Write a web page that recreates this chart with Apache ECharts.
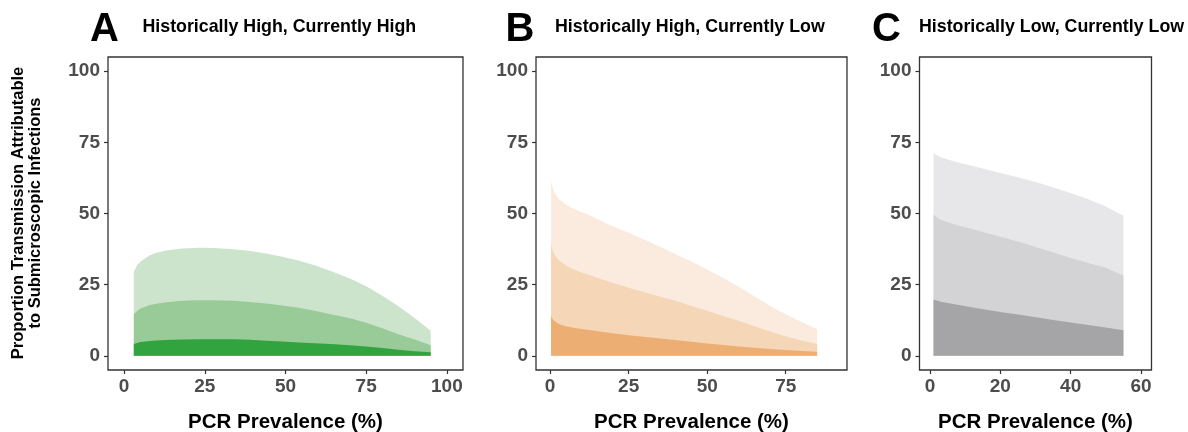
<!DOCTYPE html>
<html>
<head>
<meta charset="utf-8">
<script src="https://cdn.jsdelivr.net/npm/echarts@6/dist/echarts.min.js"></script>
<style>
html,body{margin:0;padding:0;background:#fff;}
#c{width:1188px;height:432px;}
</style>
</head>
<body>
<div id="c"></div>
<script>
// ---- data ----
var panelLetters = ['A', 'B', 'C'];
var panelTitles = ['Historically High, Currently High', 'Historically High, Currently Low', 'Historically Low, Currently Low'];
var xTitle = 'PCR Prevalence (%)';
var yTitle = 'Proportion Transmission Attributable\nto Submicroscopic Infections';

var yTicks = [0, 25, 50, 75, 100];
var xTicksA = [0, 25, 50, 75, 100];
var xTicksB = [0, 25, 50, 75];
var xTicksC = [0, 20, 40, 60];

var xA = [3, 4, 5, 6.5, 8, 10, 13, 18, 23, 28, 34, 39, 44, 49, 54, 59, 64, 70, 75, 80, 85, 90, 95];
var aHigh = [29.5, 31.8, 33.0, 34.3, 35.3, 36.2, 37.0, 37.7, 38.0, 37.9, 37.4, 36.8, 35.9, 34.8, 33.5, 31.8, 29.8, 27.2, 24.4, 21.1, 17.4, 13.3, 8.8];
var aMid  = [14.6, 15.7, 16.5, 17.2, 17.8, 18.3, 18.8, 19.3, 19.5, 19.5, 19.3, 18.9, 18.4, 17.7, 16.9, 15.8, 14.6, 13.2, 11.6, 9.7, 7.6, 5.7, 3.7];
var aLow  = [4.1, 4.5, 4.8, 5.0, 5.2, 5.35, 5.5, 5.7, 5.8, 5.8, 5.8, 5.6, 5.3, 5.0, 4.7, 4.4, 4.1, 3.7, 3.3, 2.7, 2.1, 1.6, 1.2];

var xB = [0.3, 1, 2, 3, 5, 7, 10, 13, 18, 25, 32, 39, 45, 50, 55, 60, 65, 71, 75, 80, 85];
var bHigh = [61.3, 58.3, 56.2, 54.8, 53.2, 51.9, 50.5, 49.2, 46.4, 43.2, 39.8, 36.2, 33.1, 30.3, 27.4, 24.3, 20.9, 16.9, 14.6, 11.9, 9.3];
var bMid  = [39.1, 36.2, 34.5, 33.3, 31.8, 30.6, 29.3, 28.2, 26.3, 23.9, 21.7, 19.6, 17.5, 15.8, 14.0, 12.3, 10.4, 8.2, 6.8, 5.4, 4.1];
var bLow  = [14.0, 12.6, 11.7, 11.1, 10.4, 9.9, 9.4, 9.0, 8.2, 7.2, 6.4, 5.6, 4.9, 4.3, 3.8, 3.3, 2.8, 2.3, 2.0, 1.7, 1.4];

var xC = [1, 3, 7, 13, 20, 26, 31, 36, 40, 45, 50, 55];
var cHigh = [71.2, 69.8, 68.3, 66.4, 64.2, 62.4, 60.7, 58.8, 57.2, 55.0, 52.5, 49.2];
var cMid  = [49.6, 47.8, 46.1, 44.2, 41.8, 39.8, 37.9, 35.9, 34.4, 32.6, 30.9, 28.2];
var cLow  = [19.8, 19.0, 18.1, 16.8, 15.4, 14.3, 13.4, 12.4, 11.7, 10.8, 9.9, 9.0];

// ---- styling / layout ----
var FONT = '"Liberation Sans", Arial, sans-serif';
var panels = [
  {left: 108, width: 355, xmin: -5, xmax: 105, ticks: xTicksA, x: xA, ys: [aHigh, aMid, aLow],
   colors: ['#cce4cc', '#98cb98', '#31a33f'], letterX: 104.5, titleX: 142.5},
  {left: 536, width: 311, xmin: -4.5, xmax: 94.5, ticks: xTicksB, x: xB, ys: [bHigh, bMid, bLow],
   colors: ['#fbebde', '#f5d6b7', '#ecae72'], letterX: 520, titleX: 555},
  {left: 919.5, width: 232, xmin: -3, xmax: 63, ticks: xTicksC, x: xC, ys: [cHigh, cMid, cLow],
   colors: ['#e7e7e9', '#d3d2d4', '#a5a5a7'], letterX: 886.5, titleX: 919}
];
var TOP = 57, HEIGHT = 313;

function pairs(xs, ys) { return xs.map(function (x, i) { return [x, ys[i]]; }); }

var grids = [], xAxes = [], yAxes = [], series = [], graphics = [];
panels.forEach(function (p, i) {
  grids.push({left: p.left, top: TOP, width: p.width, height: HEIGHT, show: true,
    borderColor: '#333', borderWidth: 1.3, backgroundColor: '#fff', containLabel: false});
  var labelStyle = {color: '#4d4d4d', fontWeight: 'bold', fontSize: 19, fontFamily: FONT};
  xAxes.push({type: 'value', gridIndex: i, min: p.xmin, max: p.xmax,
    axisLine: {show: false, onZero: false}, splitLine: {show: false},
    axisTick: {show: true, length: 4, lineStyle: {color: '#333', width: 1.2}, customValues: p.ticks},
    axisLabel: Object.assign({margin: 7, customValues: p.ticks}, labelStyle)});
  yAxes.push({type: 'value', gridIndex: i, min: -5, max: 105,
    axisLine: {show: false, onZero: false}, splitLine: {show: false},
    axisTick: {show: true, length: 4, lineStyle: {color: '#333', width: 1.2}, customValues: yTicks},
    axisLabel: Object.assign({margin: 8, customValues: yTicks}, labelStyle)});
  p.ys.forEach(function (ys, k) {
    series.push({type: 'line', xAxisIndex: i, yAxisIndex: i, data: pairs(p.x, ys),
      smooth: false, showSymbol: false, symbol: 'none', silent: true,
      lineStyle: {width: 0}, itemStyle: {color: p.colors[k]},
      areaStyle: {color: p.colors[k], opacity: 1}});
  });
  graphics.push({type: 'text', x: p.letterX, y: 29.5, style: {text: panelLetters[i],
    font: 'bold 40px ' + FONT, fill: '#000', align: 'center', verticalAlign: 'middle'}});
  graphics.push({type: 'text', x: p.titleX, y: 27.5, style: {text: panelTitles[i],
    font: 'bold 17.8px ' + FONT, fill: '#000', align: 'left', verticalAlign: 'middle'}});
  graphics.push({type: 'text', x: p.left + p.width / 2, y: 422.5, style: {text: xTitle,
    font: 'bold 20.5px ' + FONT, fill: '#000', align: 'center', verticalAlign: 'middle'}});
});
graphics.push({type: 'text', x: 27, y: 213, rotation: Math.PI / 2, style: {text: yTitle,
  font: 'bold 16.5px ' + FONT, lineHeight: 17, fill: '#000', align: 'center', verticalAlign: 'middle'}});

var chart = echarts.init(document.getElementById('c'), null, {renderer: 'canvas'});
chart.setOption({
  animation: false,
  backgroundColor: '#fff',
  grid: grids, xAxis: xAxes, yAxis: yAxes, series: series, graphic: graphics
});
</script>
</body>
</html>
